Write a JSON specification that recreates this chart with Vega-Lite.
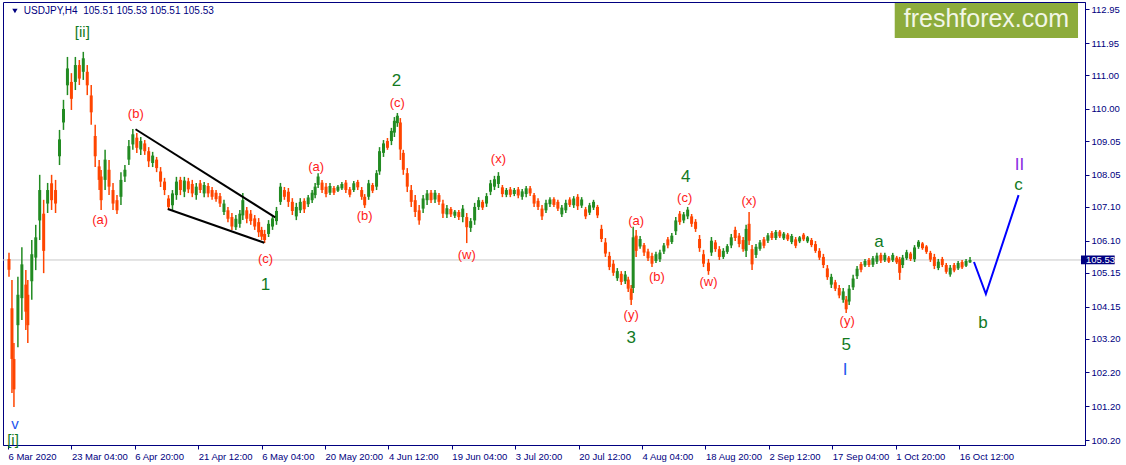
{
"$schema": "https://vega.github.io/schema/vega-lite/v6.json",
"width": 1082, "height": 443,
"autosize": "none",
"padding": {"left": 3, "top": 2, "right": 41, "bottom": 20},
"background": "white",
"config": {"view": {"stroke": "#000080", "strokeWidth": 1}, "font": "Liberation Sans", "axis": {"labelOverlap": false, "labelFlush": false, "labelBound": false, "grid": false}},
"datasets": {
"one": [{"k": 1}],
"candles": [
{"i":1,"o":105.56,"h":105.74,"l":105.03,"c":105.24},
{"i":4,"o":104.1,"h":104.94,"l":101.59,"c":102.6},
{"i":6,"o":102.6,"h":103.07,"l":101.18,"c":101.7},
{"i":10,"o":103.6,"h":105.03,"l":102.95,"c":104.5},
{"i":14,"o":104.4,"h":105.91,"l":103.75,"c":105.4},
{"i":18,"o":104.8,"h":105.23,"l":103.46,"c":104.0},
{"i":20,"o":104.5,"h":104.94,"l":103.07,"c":103.6},
{"i":24,"o":104.9,"h":106.12,"l":104.35,"c":105.7},
{"i":28,"o":105.6,"h":106.57,"l":105.23,"c":106.2},
{"i":32,"o":106.7,"h":108.05,"l":106.12,"c":107.6},
{"i":36,"o":106.9,"h":107.31,"l":105.14,"c":105.8},
{"i":40,"o":107.2,"h":107.81,"l":106.92,"c":107.6},
{"i":44,"o":107.8,"h":108.05,"l":107.01,"c":107.3},
{"i":48,"o":107.6,"h":107.9,"l":106.92,"c":107.2},
{"i":52,"o":108.6,"h":109.38,"l":108.34,"c":109.1},
{"i":56,"o":109.6,"h":110.27,"l":109.38,"c":110.0},
{"i":60,"o":110.7,"h":111.54,"l":110.41,"c":111.2},
{"i":64,"o":110.8,"h":111.06,"l":109.97,"c":110.3},
{"i":68,"o":110.8,"h":111.54,"l":110.56,"c":111.3},
{"i":72,"o":111.3,"h":111.45,"l":110.71,"c":110.9},
{"i":76,"o":111.1,"h":111.69,"l":110.86,"c":111.5},
{"i":80,"o":111.1,"h":111.3,"l":110.41,"c":110.7},
{"i":84,"o":110.4,"h":110.71,"l":109.53,"c":109.9},
{"i":88,"o":109.2,"h":109.53,"l":108.28,"c":108.6},
{"i":92,"o":108.3,"h":108.49,"l":107.6,"c":107.9},
{"i":94,"o":108.0,"h":108.19,"l":107.01,"c":107.3},
{"i":98,"o":107.9,"h":108.79,"l":107.6,"c":108.5},
{"i":102,"o":108.2,"h":108.49,"l":107.45,"c":107.7},
{"i":106,"o":107.6,"h":107.81,"l":107.01,"c":107.2},
{"i":110,"o":107.3,"h":107.45,"l":106.89,"c":107.0},
{"i":114,"o":107.4,"h":108.13,"l":107.16,"c":107.9},
{"i":118,"o":108.0,"h":108.34,"l":107.84,"c":108.2},
{"i":122,"o":108.5,"h":109.08,"l":108.34,"c":108.9},
{"i":126,"o":108.95,"h":109.41,"l":108.79,"c":109.25},
{"i":130,"o":109.15,"h":109.29,"l":108.7,"c":108.85},
{"i":134,"o":108.8,"h":109.17,"l":108.64,"c":109.05},
{"i":138,"o":108.98,"h":109.08,"l":108.64,"c":108.75},
{"i":142,"o":108.75,"h":108.87,"l":108.28,"c":108.45},
{"i":146,"o":108.4,"h":108.73,"l":108.28,"c":108.62},
{"i":150,"o":108.5,"h":108.58,"l":108.13,"c":108.25},
{"i":154,"o":108.15,"h":108.28,"l":107.69,"c":107.85},
{"i":158,"o":107.85,"h":107.96,"l":107.45,"c":107.6},
{"i":162,"o":107.35,"h":107.45,"l":107.01,"c":107.1},
{"i":166,"o":107.15,"h":107.6,"l":107.01,"c":107.5},
{"i":170,"o":107.45,"h":107.99,"l":107.31,"c":107.85},
{"i":174,"o":107.9,"h":107.99,"l":107.45,"c":107.6},
{"i":178,"o":107.55,"h":107.99,"l":107.39,"c":107.88},
{"i":182,"o":107.86,"h":107.96,"l":107.51,"c":107.62},
{"i":186,"o":107.78,"h":107.9,"l":107.39,"c":107.5},
{"i":190,"o":107.45,"h":107.81,"l":107.31,"c":107.7},
{"i":194,"o":107.8,"h":107.9,"l":107.51,"c":107.6},
{"i":198,"o":107.5,"h":107.84,"l":107.39,"c":107.75},
{"i":202,"o":107.72,"h":107.81,"l":107.39,"c":107.5},
{"i":206,"o":107.6,"h":107.69,"l":107.31,"c":107.4},
{"i":210,"o":107.52,"h":107.6,"l":107.25,"c":107.33},
{"i":214,"o":107.42,"h":107.51,"l":107.1,"c":107.2},
{"i":218,"o":106.95,"h":107.31,"l":106.86,"c":107.2},
{"i":222,"o":107.0,"h":107.1,"l":106.65,"c":106.75},
{"i":226,"o":106.8,"h":106.92,"l":106.42,"c":106.52},
{"i":230,"o":106.5,"h":106.86,"l":106.42,"c":106.75},
{"i":234,"o":106.6,"h":107.01,"l":106.48,"c":106.9},
{"i":237,"o":106.85,"h":107.51,"l":106.71,"c":107.3},
{"i":241,"o":107.0,"h":107.1,"l":106.62,"c":106.75},
{"i":245,"o":106.9,"h":107.01,"l":106.57,"c":106.68},
{"i":249,"o":106.76,"h":106.86,"l":106.42,"c":106.52},
{"i":253,"o":106.65,"h":106.77,"l":106.21,"c":106.35},
{"i":256,"o":106.42,"h":106.51,"l":106.12,"c":106.22},
{"i":259,"o":106.3,"h":106.42,"l":106.03,"c":106.12},
{"i":263,"o":106.3,"h":106.71,"l":106.21,"c":106.6},
{"i":267,"o":106.52,"h":106.86,"l":106.42,"c":106.76},
{"i":271,"o":106.68,"h":107.1,"l":106.57,"c":106.98},
{"i":275,"o":107.25,"h":107.81,"l":107.16,"c":107.7},
{"i":279,"o":107.6,"h":107.69,"l":107.31,"c":107.4},
{"i":283,"o":107.55,"h":107.66,"l":107.1,"c":107.25},
{"i":287,"o":107.25,"h":107.36,"l":106.86,"c":106.98},
{"i":291,"o":106.82,"h":107.22,"l":106.71,"c":107.1},
{"i":295,"o":107.0,"h":107.36,"l":106.92,"c":107.25},
{"i":299,"o":107.28,"h":107.36,"l":106.92,"c":107.03},
{"i":303,"o":107.18,"h":107.45,"l":107.1,"c":107.38},
{"i":307,"o":107.3,"h":107.6,"l":107.22,"c":107.52},
{"i":310,"o":107.45,"h":107.81,"l":107.36,"c":107.7},
{"i":313,"o":107.75,"h":108.1,"l":107.66,"c":108.0},
{"i":317,"o":107.82,"h":107.9,"l":107.51,"c":107.6},
{"i":321,"o":107.7,"h":107.81,"l":107.39,"c":107.48},
{"i":325,"o":107.52,"h":107.81,"l":107.45,"c":107.72},
{"i":329,"o":107.66,"h":107.72,"l":107.45,"c":107.52},
{"i":333,"o":107.58,"h":107.75,"l":107.54,"c":107.7},
{"i":337,"o":107.65,"h":107.84,"l":107.6,"c":107.78},
{"i":341,"o":107.82,"h":107.9,"l":107.51,"c":107.6},
{"i":345,"o":107.62,"h":107.69,"l":107.39,"c":107.46},
{"i":349,"o":107.6,"h":107.87,"l":107.54,"c":107.8},
{"i":353,"o":107.84,"h":107.9,"l":107.6,"c":107.68},
{"i":357,"o":107.6,"h":107.69,"l":107.31,"c":107.4},
{"i":360,"o":107.4,"h":107.48,"l":107.07,"c":107.15},
{"i":364,"o":107.4,"h":107.9,"l":107.31,"c":107.8},
{"i":368,"o":107.75,"h":107.81,"l":107.51,"c":107.58},
{"i":372,"o":107.7,"h":108.19,"l":107.6,"c":108.1},
{"i":375,"o":108.15,"h":108.87,"l":108.05,"c":108.75},
{"i":379,"o":108.7,"h":109.08,"l":108.58,"c":108.98},
{"i":383,"o":109.05,"h":109.14,"l":108.79,"c":108.85},
{"i":387,"o":109.05,"h":109.44,"l":108.93,"c":109.35},
{"i":390,"o":109.3,"h":109.76,"l":109.17,"c":109.65},
{"i":393,"o":109.58,"h":109.88,"l":109.47,"c":109.8},
{"i":396,"o":109.6,"h":109.73,"l":108.49,"c":108.8},
{"i":399,"o":108.7,"h":108.79,"l":108.05,"c":108.2},
{"i":403,"o":108.1,"h":108.25,"l":107.54,"c":107.7},
{"i":407,"o":107.6,"h":107.75,"l":107.1,"c":107.25},
{"i":411,"o":107.3,"h":107.45,"l":106.8,"c":106.95},
{"i":415,"o":107.0,"h":107.16,"l":106.57,"c":106.7},
{"i":419,"o":107.05,"h":107.45,"l":106.92,"c":107.35},
{"i":423,"o":107.3,"h":107.6,"l":107.16,"c":107.5},
{"i":427,"o":107.52,"h":107.6,"l":107.22,"c":107.3},
{"i":431,"o":107.32,"h":107.6,"l":107.22,"c":107.52},
{"i":435,"o":107.45,"h":107.51,"l":107.16,"c":107.25},
{"i":439,"o":107.2,"h":107.31,"l":106.77,"c":106.9},
{"i":443,"o":106.88,"h":107.16,"l":106.77,"c":107.06},
{"i":447,"o":107.04,"h":107.1,"l":106.8,"c":106.88},
{"i":451,"o":106.84,"h":107.01,"l":106.77,"c":106.96},
{"i":455,"o":106.95,"h":107.01,"l":106.71,"c":106.8},
{"i":459,"o":106.8,"h":107.16,"l":106.65,"c":107.05},
{"i":463,"o":106.8,"h":106.92,"l":106.03,"c":106.5},
{"i":467,"o":106.48,"h":106.77,"l":106.36,"c":106.68},
{"i":471,"o":106.7,"h":107.22,"l":106.57,"c":107.1},
{"i":475,"o":107.1,"h":107.39,"l":107.01,"c":107.3},
{"i":479,"o":107.25,"h":107.31,"l":107.01,"c":107.08},
{"i":483,"o":107.2,"h":107.51,"l":107.1,"c":107.42},
{"i":487,"o":107.55,"h":107.9,"l":107.45,"c":107.8},
{"i":491,"o":107.7,"h":108.02,"l":107.6,"c":107.92},
{"i":495,"o":107.78,"h":108.13,"l":107.66,"c":108.02},
{"i":499,"o":107.68,"h":107.75,"l":107.39,"c":107.48},
{"i":503,"o":107.46,"h":107.66,"l":107.39,"c":107.6},
{"i":507,"o":107.62,"h":107.69,"l":107.39,"c":107.46},
{"i":511,"o":107.48,"h":107.66,"l":107.42,"c":107.6},
{"i":515,"o":107.62,"h":107.69,"l":107.36,"c":107.44},
{"i":519,"o":107.4,"h":107.63,"l":107.31,"c":107.56},
{"i":523,"o":107.48,"h":107.72,"l":107.39,"c":107.65},
{"i":527,"o":107.65,"h":107.72,"l":107.42,"c":107.5},
{"i":531,"o":107.45,"h":107.51,"l":107.1,"c":107.2},
{"i":535,"o":107.28,"h":107.36,"l":107.01,"c":107.1},
{"i":539,"o":107.05,"h":107.16,"l":106.71,"c":106.82},
{"i":543,"o":107.0,"h":107.31,"l":106.92,"c":107.22},
{"i":547,"o":107.18,"h":107.39,"l":107.1,"c":107.32},
{"i":551,"o":107.33,"h":107.39,"l":107.1,"c":107.16},
{"i":555,"o":107.25,"h":107.31,"l":106.98,"c":107.05},
{"i":559,"o":106.88,"h":107.16,"l":106.8,"c":107.08},
{"i":563,"o":107.0,"h":107.31,"l":106.92,"c":107.22},
{"i":567,"o":107.32,"h":107.39,"l":107.1,"c":107.16},
{"i":571,"o":107.15,"h":107.42,"l":107.07,"c":107.35},
{"i":575,"o":107.4,"h":107.48,"l":107.01,"c":107.12},
{"i":579,"o":107.14,"h":107.39,"l":107.07,"c":107.32},
{"i":583,"o":107.03,"h":107.1,"l":106.74,"c":106.82},
{"i":587,"o":106.93,"h":107.22,"l":106.86,"c":107.15},
{"i":591,"o":107.08,"h":107.31,"l":107.01,"c":107.25},
{"i":595,"o":107.1,"h":107.16,"l":106.77,"c":106.85},
{"i":599,"o":106.45,"h":106.57,"l":106.06,"c":106.15},
{"i":603,"o":106.05,"h":106.18,"l":105.62,"c":105.72},
{"i":607,"o":105.65,"h":105.77,"l":105.23,"c":105.32},
{"i":611,"o":105.42,"h":105.53,"l":105.06,"c":105.15},
{"i":615,"o":104.99,"h":105.29,"l":104.91,"c":105.2},
{"i":619,"o":105.12,"h":105.2,"l":104.79,"c":104.88},
{"i":623,"o":104.9,"h":105.2,"l":104.82,"c":105.1},
{"i":626,"o":104.95,"h":105.03,"l":104.58,"c":104.68},
{"i":629,"o":104.68,"h":104.79,"l":104.2,"c":104.35},
{"i":631,"o":104.7,"h":106.51,"l":104.55,"c":106.2},
{"i":634,"o":106.25,"h":106.42,"l":105.62,"c":105.8},
{"i":638,"o":105.93,"h":106.24,"l":105.86,"c":106.15},
{"i":642,"o":105.97,"h":106.03,"l":105.65,"c":105.75},
{"i":646,"o":105.78,"h":105.86,"l":105.5,"c":105.58},
{"i":650,"o":105.65,"h":105.74,"l":105.32,"c":105.42},
{"i":654,"o":105.5,"h":105.77,"l":105.44,"c":105.7},
{"i":658,"o":105.55,"h":105.83,"l":105.47,"c":105.75},
{"i":662,"o":105.78,"h":106.03,"l":105.71,"c":105.96},
{"i":666,"o":106.14,"h":106.21,"l":105.88,"c":105.96},
{"i":670,"o":106.06,"h":106.33,"l":106.0,"c":106.25},
{"i":674,"o":106.38,"h":106.8,"l":106.27,"c":106.7},
{"i":678,"o":106.9,"h":106.98,"l":106.57,"c":106.65},
{"i":682,"o":106.7,"h":106.95,"l":106.62,"c":106.88},
{"i":686,"o":106.82,"h":107.1,"l":106.74,"c":107.02},
{"i":690,"o":106.82,"h":106.89,"l":106.51,"c":106.6},
{"i":694,"o":106.66,"h":106.74,"l":106.36,"c":106.45},
{"i":698,"o":106.15,"h":106.27,"l":105.77,"c":105.88},
{"i":702,"o":105.7,"h":105.83,"l":105.32,"c":105.42},
{"i":707,"o":105.45,"h":105.56,"l":105.09,"c":105.2},
{"i":710,"o":105.75,"h":106.21,"l":105.65,"c":106.1},
{"i":714,"o":106.05,"h":106.12,"l":105.77,"c":105.85},
{"i":718,"o":105.85,"h":105.94,"l":105.53,"c":105.62},
{"i":722,"o":105.62,"h":105.88,"l":105.56,"c":105.8},
{"i":726,"o":105.77,"h":106.0,"l":105.71,"c":105.94},
{"i":730,"o":105.96,"h":106.3,"l":105.88,"c":106.2},
{"i":734,"o":106.42,"h":106.51,"l":106.09,"c":106.18},
{"i":738,"o":106.25,"h":106.33,"l":105.91,"c":106.0},
{"i":742,"o":106.12,"h":106.21,"l":105.77,"c":105.85},
{"i":745,"o":105.8,"h":106.57,"l":105.62,"c":106.45},
{"i":748,"o":106.6,"h":106.95,"l":105.97,"c":106.1},
{"i":751,"o":105.85,"h":105.97,"l":105.23,"c":105.4},
{"i":755,"o":105.68,"h":106.0,"l":105.59,"c":105.92},
{"i":759,"o":105.86,"h":106.12,"l":105.8,"c":106.05},
{"i":763,"o":106.14,"h":106.21,"l":105.88,"c":105.95},
{"i":767,"o":106.1,"h":106.33,"l":106.03,"c":106.26},
{"i":771,"o":106.33,"h":106.39,"l":106.12,"c":106.18},
{"i":775,"o":106.18,"h":106.42,"l":106.12,"c":106.36},
{"i":779,"o":106.37,"h":106.42,"l":106.18,"c":106.23},
{"i":783,"o":106.17,"h":106.36,"l":106.12,"c":106.31},
{"i":787,"o":106.28,"h":106.33,"l":106.09,"c":106.14},
{"i":791,"o":106.06,"h":106.3,"l":106.0,"c":106.24},
{"i":795,"o":106.14,"h":106.21,"l":105.88,"c":105.95},
{"i":799,"o":106.08,"h":106.24,"l":106.03,"c":106.2},
{"i":803,"o":106.28,"h":106.33,"l":106.09,"c":106.14},
{"i":807,"o":106.08,"h":106.24,"l":106.03,"c":106.2},
{"i":811,"o":106.12,"h":106.18,"l":105.91,"c":105.97},
{"i":815,"o":106.0,"h":106.09,"l":105.74,"c":105.8},
{"i":819,"o":105.8,"h":105.88,"l":105.53,"c":105.6},
{"i":823,"o":105.62,"h":105.71,"l":105.29,"c":105.38},
{"i":827,"o":105.28,"h":105.38,"l":104.94,"c":105.02},
{"i":831,"o":104.8,"h":105.12,"l":104.7,"c":105.03},
{"i":835,"o":104.87,"h":104.94,"l":104.61,"c":104.68},
{"i":839,"o":104.7,"h":104.79,"l":104.4,"c":104.48},
{"i":843,"o":104.35,"h":104.7,"l":104.26,"c":104.6},
{"i":846,"o":104.36,"h":104.46,"l":103.96,"c":104.07},
{"i":849,"o":104.3,"h":104.79,"l":104.2,"c":104.68},
{"i":853,"o":104.72,"h":105.09,"l":104.64,"c":104.98},
{"i":857,"o":105.05,"h":105.35,"l":104.97,"c":105.27},
{"i":861,"o":105.41,"h":105.47,"l":105.17,"c":105.24},
{"i":865,"o":105.37,"h":105.56,"l":105.32,"c":105.5},
{"i":869,"o":105.53,"h":105.59,"l":105.32,"c":105.38},
{"i":873,"o":105.39,"h":105.65,"l":105.32,"c":105.58},
{"i":877,"o":105.48,"h":105.74,"l":105.41,"c":105.66},
{"i":881,"o":105.68,"h":105.74,"l":105.44,"c":105.51},
{"i":885,"o":105.52,"h":105.74,"l":105.47,"c":105.68},
{"i":889,"o":105.6,"h":105.65,"l":105.44,"c":105.48},
{"i":893,"o":105.52,"h":105.74,"l":105.47,"c":105.68},
{"i":897,"o":105.6,"h":105.65,"l":105.41,"c":105.46},
{"i":900,"o":105.55,"h":105.62,"l":104.94,"c":105.15},
{"i":903,"o":105.38,"h":105.68,"l":105.29,"c":105.6},
{"i":907,"o":105.58,"h":105.83,"l":105.53,"c":105.76},
{"i":911,"o":105.72,"h":105.77,"l":105.5,"c":105.56},
{"i":915,"o":105.55,"h":105.97,"l":105.47,"c":105.9},
{"i":919,"o":105.92,"h":106.12,"l":105.86,"c":106.07},
{"i":923,"o":106.02,"h":106.06,"l":105.83,"c":105.88},
{"i":927,"o":105.93,"h":105.97,"l":105.71,"c":105.77},
{"i":931,"o":105.74,"h":105.8,"l":105.47,"c":105.54},
{"i":935,"o":105.62,"h":105.71,"l":105.26,"c":105.35},
{"i":939,"o":105.29,"h":105.56,"l":105.23,"c":105.48},
{"i":943,"o":105.56,"h":105.62,"l":105.32,"c":105.38},
{"i":947,"o":105.38,"h":105.44,"l":105.12,"c":105.18},
{"i":951,"o":105.1,"h":105.38,"l":105.03,"c":105.3},
{"i":955,"o":105.38,"h":105.44,"l":105.17,"c":105.22},
{"i":959,"o":105.28,"h":105.5,"l":105.23,"c":105.44},
{"i":963,"o":105.47,"h":105.53,"l":105.26,"c":105.31},
{"i":967,"o":105.36,"h":105.56,"l":105.32,"c":105.5},
{"i":971,"o":105.46,"h":105.62,"l":105.44,"c":105.53}
],
"labels": [
{"i":75,"p":112.28,"t":"[ii]","kind":"bracket"},
{"i":5,"p":100.2,"t":"[i]","kind":"bracket"},
{"i":7,"p":100.66,"t":"v","kind":"vblue"},
{"i":129,"p":109.85,"t":"(b)","kind":"sub"},
{"i":93,"p":106.71,"t":"(a)","kind":"sub"},
{"i":260,"p":105.56,"t":"(c)","kind":"sub"},
{"i":260,"p":104.79,"t":"1","kind":"minor"},
{"i":311,"p":108.28,"t":"(a)","kind":"sub"},
{"i":360,"p":106.83,"t":"(b)","kind":"sub"},
{"i":393,"p":110.18,"t":"(c)","kind":"sub"},
{"i":392,"p":110.83,"t":"2","kind":"minor"},
{"i":463,"p":105.68,"t":"(w)","kind":"sub"},
{"i":495,"p":108.52,"t":"(x)","kind":"sub"},
{"i":634,"p":106.68,"t":"(a)","kind":"sub"},
{"i":629,"p":103.9,"t":"(y)","kind":"sub"},
{"i":629,"p":103.22,"t":"3","kind":"minor"},
{"i":655,"p":105.02,"t":"(b)","kind":"sub"},
{"i":684,"p":107.99,"t":"4","kind":"minor"},
{"i":683,"p":107.35,"t":"(c)","kind":"sub"},
{"i":707,"p":104.87,"t":"(w)","kind":"sub"},
{"i":748,"p":107.27,"t":"(x)","kind":"sub"},
{"i":847,"p":103.71,"t":"(y)","kind":"sub"},
{"i":846,"p":103.01,"t":"5","kind":"minor"},
{"i":845,"p":102.28,"t":"I","kind":"blue"},
{"i":879,"p":106.07,"t":"a","kind":"minor"},
{"i":984,"p":103.65,"t":"b","kind":"minor"},
{"i":1020,"p":107.76,"t":"c","kind":"minor"},
{"i":1021,"p":108.33,"t":"II","kind":"purple"}
],
"wedge": [
{"i":128.7,"p":109.4,"i2":269.7,"p2":106.79},
{"i":161.3,"p":107.04,"i2":258.7,"p2":106.04}
],
"forecast": [
{"i":975,"p":105.47},
{"i":987,"p":104.52},
{"i":1020,"p":107.45}
]
},
"layer": [
{
"data": {"name": "one"},
"mark": {"type": "rule", "color": "#c8c8c8", "strokeWidth": 1},
"encoding": {
"y": {"datum": 105.53, "type": "quantitative", "scale": {"domain": [100.053, 113.166], "nice": false, "zero": false},
"axis": {"orient": "right", "values": [100.2,101.2,102.2,103.2,104.15,105.15,106.1,107.1,108.05,109.05,110,111,111.95,112.95], "tickCount": 30,
"format": ".2f", "labelFlush": false, "labelOverlap": false, "labelBound": false,
"labelColor": "#000080", "labelFont": "Liberation Sans", "labelFontSize": 9.5, "labelPadding": 2,
"tickColor": "#000080", "tickSize": 4, "domainColor": "#000080", "grid": false, "title": null}}
}
},
{
"data": {"name": "candles"},
"mark": {"type": "rule", "strokeWidth": 1.5},
"encoding": {
"x": {"field": "i", "type": "quantitative", "scale": {"domain": [0, 1082], "nice": false, "zero": false},
"axis": {"orient": "bottom", "values": [0,64,128,192,256,320,384,448,512,576,640,704,768,832,896,960], "tickCount": 30,
"labelExpr": "['6 Mar 2020','23 Mar 04:00','6 Apr 20:00','21 Apr 12:00','6 May 04:00','20 May 20:00','4 Jun 12:00','19 Jun 04:00','3 Jul 20:00','20 Jul 12:00','4 Aug 04:00','18 Aug 20:00','2 Sep 12:00','17 Sep 04:00','1 Oct 20:00','16 Oct 12:00'][round(datum.value/64)]",
"labelAlign": "left", "labelFlush": false, "labelOverlap": false, "labelBound": false,
"labelColor": "#000080", "labelFont": "Liberation Sans", "labelFontSize": 9.5, "labelPadding": 2,
"tickColor": "#000080", "tickSize": 4, "domainColor": "#000080", "grid": false, "title": null}},
"y": {"field": "l", "type": "quantitative", "scale": {"domain": [100.053, 113.166], "nice": false, "zero": false},
"axis": {"orient": "right", "values": [100.2,101.2,102.2,103.2,104.15,105.15,106.1,107.1,108.05,109.05,110,111,111.95,112.95], "tickCount": 30,
"format": ".2f", "labelFlush": false, "labelOverlap": false, "labelBound": false,
"labelColor": "#000080", "labelFont": "Liberation Sans", "labelFontSize": 9.5, "labelPadding": 2,
"tickColor": "#000080", "tickSize": 4, "domainColor": "#000080", "grid": false, "title": null}},
"y2": {"field": "h"},
"color": {"condition": {"test": "datum.c >= datum.o", "value": "#228b22"}, "value": "#ff4500"}
}
},
{
"data": {"name": "candles"},
"mark": {"type": "bar", "size": 3},
"encoding": {
"x": {"field": "i", "type": "quantitative", "scale": {"domain": [0, 1082], "nice": false, "zero": false}, "axis": {"title": null, "orient": "bottom", "labelOverlap": false, "tickCount": 30}},
"y": {"field": "o", "type": "quantitative", "scale": {"domain": [100.053, 113.166], "nice": false, "zero": false}, "axis": {"title": null, "orient": "right", "labelOverlap": false, "tickCount": 30}},
"y2": {"field": "c"},
"color": {"condition": {"test": "datum.c >= datum.o", "value": "#228b22"}, "value": "#ff4500"}
}
},
{
"data": {"name": "wedge"},
"mark": {"type": "rule", "color": "#000000", "strokeWidth": 2},
"encoding": {
"x": {"field": "i", "type": "quantitative", "scale": {"domain": [0, 1082], "nice": false, "zero": false}, "axis": {"title": null, "orient": "bottom", "labelOverlap": false, "tickCount": 30}},
"x2": {"field": "i2"},
"y": {"field": "p", "type": "quantitative", "scale": {"domain": [100.053, 113.166], "nice": false, "zero": false}, "axis": {"title": null, "orient": "right", "labelOverlap": false, "tickCount": 30}},
"y2": {"field": "p2"}
}
},
{
"data": {"name": "forecast"},
"mark": {"type": "line", "color": "#0000ff", "strokeWidth": 2},
"encoding": {
"x": {"field": "i", "type": "quantitative", "scale": {"domain": [0, 1082], "nice": false, "zero": false}, "axis": {"title": null, "orient": "bottom", "labelOverlap": false, "tickCount": 30}},
"y": {"field": "p", "type": "quantitative", "scale": {"domain": [100.053, 113.166], "nice": false, "zero": false}, "axis": {"title": null, "orient": "right", "labelOverlap": false, "tickCount": 30}}
}
},
{
"data": {"name": "labels"},
"transform": [{"filter": "datum.kind == 'sub'"}],
"mark": {"type": "text", "font": "Liberation Sans", "fontSize": 13, "color": "#ff1a1a", "align": "center", "baseline": "middle"},
"encoding": {
"x": {"field": "i", "type": "quantitative", "scale": {"domain": [0, 1082], "nice": false, "zero": false}, "axis": {"title": null, "orient": "bottom", "labelOverlap": false, "tickCount": 30}},
"y": {"field": "p", "type": "quantitative", "scale": {"domain": [100.053, 113.166], "nice": false, "zero": false}, "axis": {"title": null, "orient": "right", "labelOverlap": false, "tickCount": 30}},
"text": {"field": "t"}
}
},
{
"data": {"name": "labels"},
"transform": [{"filter": "datum.kind == 'minor' || datum.kind == 'blue' || datum.kind == 'purple'"}],
"mark": {"type": "text", "font": "Liberation Sans", "fontSize": 17, "align": "center", "baseline": "middle"},
"encoding": {
"x": {"field": "i", "type": "quantitative", "scale": {"domain": [0, 1082], "nice": false, "zero": false}, "axis": {"title": null, "orient": "bottom", "labelOverlap": false, "tickCount": 30}},
"y": {"field": "p", "type": "quantitative", "scale": {"domain": [100.053, 113.166], "nice": false, "zero": false}, "axis": {"title": null, "orient": "right", "labelOverlap": false, "tickCount": 30}},
"text": {"field": "t"},
"color": {"field": "kind", "type": "nominal", "scale": {"domain": ["minor", "blue", "purple"], "range": ["#127a1f", "#2255ee", "#8a2be2"]}, "legend": null}
}
},
{
"data": {"name": "labels"},
"transform": [{"filter": "datum.kind == 'bracket' || datum.kind == 'vblue'"}],
"mark": {"type": "text", "font": "Liberation Sans", "fontSize": 15, "align": "center", "baseline": "middle"},
"encoding": {
"x": {"field": "i", "type": "quantitative", "scale": {"domain": [0, 1082], "nice": false, "zero": false}, "axis": {"title": null, "orient": "bottom", "labelOverlap": false, "tickCount": 30}},
"y": {"field": "p", "type": "quantitative", "scale": {"domain": [100.053, 113.166], "nice": false, "zero": false}, "axis": {"title": null, "orient": "right", "labelOverlap": false, "tickCount": 30}},
"text": {"field": "t"},
"color": {"field": "kind", "type": "nominal", "scale": {"domain": ["bracket", "vblue"], "range": ["#33cc33", "#2020ff"]}, "legend": null}
}
},
{
"data": {"name": "one"},
"mark": {"type": "rect", "color": "#8dac3c"},
"encoding": {
"x": {"datum": 895, "type": "quantitative", "scale": {"domain": [0, 1082], "nice": false, "zero": false}, "axis": {"title": null, "orient": "bottom", "labelOverlap": false, "tickCount": 30}},
"x2": {"datum": 1080},
"y": {"datum": 113.136, "type": "quantitative", "scale": {"domain": [100.053, 113.166], "nice": false, "zero": false}, "axis": {"title": null, "orient": "right", "labelOverlap": false, "tickCount": 30}},
"y2": {"datum": 112.1}
}
},
{
"data": {"name": "one"},
"mark": {"type": "text", "text": "freshforex.com", "font": "Liberation Sans", "fontSize": 25, "color": "#f2f6e6", "align": "center", "baseline": "alphabetic"},
"encoding": {
"x": {"datum": 987.5, "type": "quantitative", "scale": {"domain": [0, 1082], "nice": false, "zero": false}, "axis": {"title": null, "orient": "bottom", "labelOverlap": false, "tickCount": 30}},
"y": {"datum": 112.43, "type": "quantitative", "scale": {"domain": [100.053, 113.166], "nice": false, "zero": false}, "axis": {"title": null, "orient": "right", "labelOverlap": false, "tickCount": 30}}
}
},
{
"data": {"name": "one"},
"mark": {"type": "point", "shape": "triangle-down", "size": 28, "filled": true, "color": "#000080", "opacity": 1},
"encoding": {
"x": {"datum": 7, "type": "quantitative", "scale": {"domain": [0, 1082], "nice": false, "zero": false}, "axis": {"title": null, "orient": "bottom", "labelOverlap": false, "tickCount": 30}},
"y": {"datum": 112.9, "type": "quantitative", "scale": {"domain": [100.053, 113.166], "nice": false, "zero": false}, "axis": {"title": null, "orient": "right", "labelOverlap": false, "tickCount": 30}}
}
},
{
"data": {"name": "one"},
"mark": {"type": "text", "text": "USDJPY,H4\u00a0 105.51 105.53 105.51 105.53", "font": "Liberation Sans", "fontSize": 10, "color": "#000080", "align": "left", "baseline": "middle"},
"encoding": {
"x": {"datum": 16, "type": "quantitative", "scale": {"domain": [0, 1082], "nice": false, "zero": false}, "axis": {"title": null, "orient": "bottom", "labelOverlap": false, "tickCount": 30}},
"y": {"datum": 112.9, "type": "quantitative", "scale": {"domain": [100.053, 113.166], "nice": false, "zero": false}, "axis": {"title": null, "orient": "right", "labelOverlap": false, "tickCount": 30}}
}
},
{
"data": {"name": "one"},
"mark": {"type": "rect", "color": "#000080"},
"encoding": {
"x": {"datum": 1083, "type": "quantitative", "scale": {"domain": [0, 1082], "nice": false, "zero": false}, "axis": {"title": null, "orient": "bottom", "labelOverlap": false, "tickCount": 30}},
"x2": {"datum": 1117},
"y": {"datum": 105.66, "type": "quantitative", "scale": {"domain": [100.053, 113.166], "nice": false, "zero": false}, "axis": {"title": null, "orient": "right", "labelOverlap": false, "tickCount": 30}},
"y2": {"datum": 105.4}
}
},
{
"data": {"name": "one"},
"mark": {"type": "text", "text": "105.53", "font": "Liberation Sans", "fontSize": 9.5, "color": "#ffffff", "align": "left", "baseline": "middle"},
"encoding": {
"x": {"datum": 1088, "type": "quantitative", "scale": {"domain": [0, 1082], "nice": false, "zero": false}, "axis": {"title": null, "orient": "bottom", "labelOverlap": false, "tickCount": 30}},
"y": {"datum": 105.53, "type": "quantitative", "scale": {"domain": [100.053, 113.166], "nice": false, "zero": false}, "axis": {"title": null, "orient": "right", "labelOverlap": false, "tickCount": 30}}
}
}
]
}
